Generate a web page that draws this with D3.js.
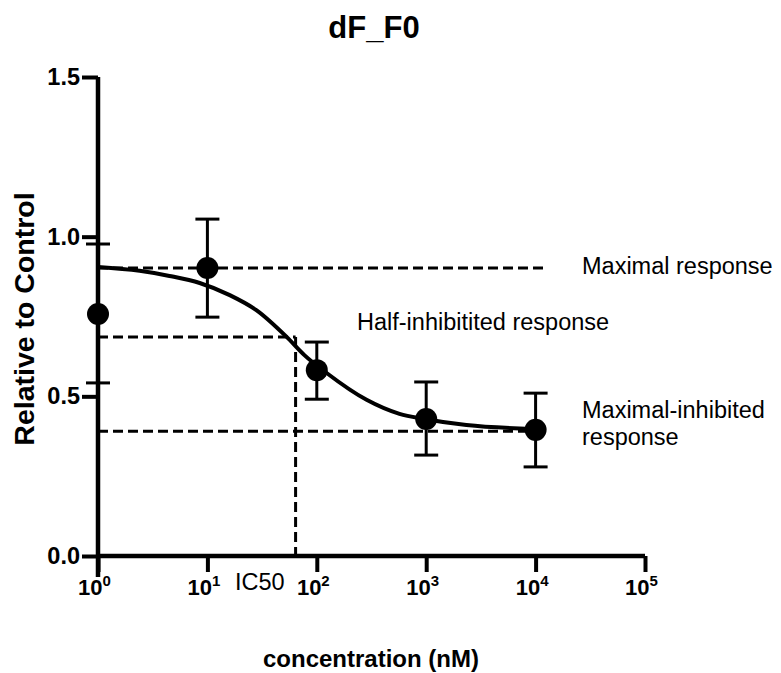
<!DOCTYPE html>
<html>
<head>
<meta charset="utf-8">
<script src="https://cdn.jsdelivr.net/npm/d3@7"></script>
<style>
  html, body { margin: 0; padding: 0; background: #fff; }
  svg { display: block; font-family: "Liberation Sans", Arial, sans-serif; }
</style>
</head>
<body>
<svg id="chart" width="781" height="673"></svg>
<script>
// ---- data ----
const concentrations = [1, 10, 100, 1000, 10000];
const meanValues     = [0.758, 0.902, 0.582, 0.429, 0.395];
const upperValues    = [0.977, 1.055, 0.670, 0.545, 0.510];
const lowerValues    = [0.542, 0.748, 0.491, 0.316, 0.279];

// fitted curve
const curveConc   = [1, 2.4, 4.5, 8.5, 16, 28, 53, 77, 123, 285, 570, 965, 2330, 9310];
const curveValues = [0.905, 0.893, 0.877, 0.855, 0.817, 0.770, 0.686, 0.629, 0.573, 0.489, 0.445, 0.429, 0.410, 0.398];

// reference levels
const maxResponse = 0.902;
const halfResponse = 0.686;
const minResponse = 0.391;
const ic50 = 64;
const refLineEnd = 12000;

const xTickValues = [1, 10, 100, 1000, 10000, 100000];
const xTickExponents = ["0", "1", "2", "3", "4", "5"];
const yTickValues = [0, 0.5, 1.0, 1.5];

const title = "dF_F0";
const xLabel = "concentration (nM)";
const yLabel = "Relative to Control";

// ---- drawing ----
const svg = d3.select("#chart");
const x = d3.scaleLog().domain([1, 100000]).range([98, 645]);
const y = d3.scaleLinear().domain([0, 1.5]).range([556, 77]);

const dash = "10,5";
const g = svg.append("g");

// dashed reference lines
function dashed(x1, x2, y1, y2) {
  g.append("line").attr("x1", x1).attr("x2", x2).attr("y1", y1).attr("y2", y2)
    .attr("stroke", "#000").attr("stroke-width", 3).attr("stroke-dasharray", dash);
}
dashed(x(1), x(refLineEnd), y(maxResponse), y(maxResponse));
dashed(x(1), x(refLineEnd), y(minResponse), y(minResponse));
dashed(x(1), x(ic50), y(halfResponse), y(halfResponse));
dashed(x(ic50), x(ic50), y(halfResponse), y(0));

// fitted curve
const curvePts = curveConc.map((c, i) => [c, curveValues[i]]);
g.append("path")
  .datum(curvePts)
  .attr("fill", "none")
  .attr("stroke", "#000")
  .attr("stroke-width", 4)
  .attr("d", d3.line().x(d => x(d[0])).y(d => y(d[1])).curve(d3.curveMonotoneX));

// error bars
const pts = concentrations.map((c, i) => ({c, m: meanValues[i], hi: upperValues[i], lo: lowerValues[i]}));
const capW = 12;
const eb = g.append("g").attr("stroke", "#000").attr("stroke-width", 3);
pts.forEach(d => {
  eb.append("line").attr("x1", x(d.c)).attr("x2", x(d.c)).attr("y1", y(d.hi)).attr("y2", y(d.lo));
  eb.append("line").attr("x1", x(d.c) - capW).attr("x2", x(d.c) + capW).attr("y1", y(d.hi)).attr("y2", y(d.hi));
  eb.append("line").attr("x1", x(d.c) - capW).attr("x2", x(d.c) + capW).attr("y1", y(d.lo)).attr("y2", y(d.lo));
});

// points
g.selectAll("circle.pt").data(pts).join("circle")
  .attr("class", "pt")
  .attr("cx", d => x(d.c)).attr("cy", d => y(d.m)).attr("r", 11)
  .attr("fill", "#000");

// axes
const xAxis = d3.axisBottom(x).tickValues(xTickValues).tickFormat("").tickSize(16).tickSizeOuter(0);
const xg = svg.append("g").attr("transform", `translate(0,${y(0)})`).call(xAxis);
xg.attr("font-family", null).attr("font-size", null);
xg.select(".domain").attr("stroke-width", 4.5).attr("d", `M${x(1)},0H${x(100000)}`);
xg.selectAll(".tick line").attr("stroke-width", 4);
xg.selectAll(".tick").each(function(d, i) {
  const t = d3.select(this).append("text")
    .attr("y", 39).attr("fill", "#000").attr("text-anchor", "middle")
    .style("font-size", "22px").style("font-weight", "bold")
    .attr("dx", -4);
  t.append("tspan").text("10");
  t.append("tspan").style("font-size", "15px").attr("dy", -9).text(xTickExponents[i]);
});

const yAxis = d3.axisLeft(y).tickValues(yTickValues).tickFormat(d3.format(".1f")).tickSize(16).tickPadding(2).tickSizeOuter(0);
const yg = svg.append("g").attr("transform", `translate(${x(1)},0)`).call(yAxis);
yg.attr("font-family", null).attr("font-size", null);
yg.select(".domain").attr("stroke-width", 4.5).attr("d", `M0,${y(1.5)}V${y(0) + 21}`);
yg.selectAll(".tick line").attr("stroke-width", 4);
yg.selectAll(".tick text").style("font-size", "23.5px").style("font-weight", "bold")
  .attr("fill", "#000");

// titles
svg.append("text").attr("x", 374).attr("y", 38).attr("text-anchor", "middle")
  .style("font-size", "31px").style("font-weight", "bold").text(title);
svg.append("text").attr("x", 371).attr("y", 667).attr("text-anchor", "middle")
  .style("font-size", "24px").style("font-weight", "bold").text(xLabel);
svg.append("text").attr("transform", "translate(34,319) rotate(-90)").attr("text-anchor", "middle")
  .style("font-size", "28.5px").style("font-weight", "bold").text(yLabel);

// annotations
const ann = svg.append("g").style("font-size", "23.5px").attr("fill", "#000");
ann.append("text").attr("x", 582).attr("y", 274).text("Maximal response");
ann.append("text").attr("x", 357).attr("y", 330).text("Half-inhibitited response");
ann.append("text").attr("x", 582).attr("y", 418).text("Maximal-inhibited");
ann.append("text").attr("x", 582).attr("y", 445).text("response");
ann.append("text").attr("x", 235).attr("y", 590).text("IC50");
</script>
</body>
</html>
